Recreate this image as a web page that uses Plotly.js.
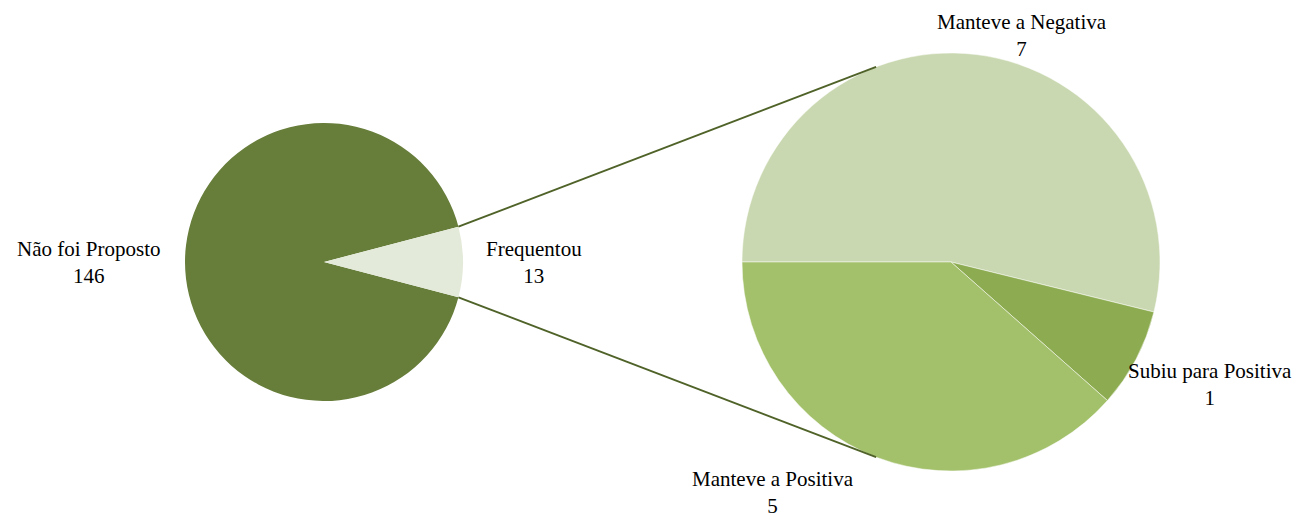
<!DOCTYPE html>
<html>
<head>
<meta charset="utf-8">
<script src="https://cdn.plot.ly/plotly-3.0.1.min.js"></script>
<style>html,body{margin:0;padding:0;background:#fff}#chart{width:1303px;height:518px}</style>
</head>
<body>
<div id="chart"></div>
<script>
// ---- data ----
const mainLabels = ["Não foi Proposto", "Frequentou"];
const mainValues = [146, 13];
const subLabels = ["Manteve a Negativa", "Subiu para Positiva", "Manteve a Positiva"];
const subValues = [7, 1, 5];

// ---- style / layout ----
const W = 1303, H = 518;
const mainColors = ["#677D3A", "#E4EAD9"];
const subColors = ["#C9D8B0", "#8DAC51", "#A3C06A"];
const lineColor = "#4F6228";
const fontFam = "Liberation Serif, serif";
const fontSize = 21;

// pie geometry in pixels (center, radius)
const mainPie = {cx: 324, cy: 262, r: 139};
const subPie = {cx: 951, cy: 262, r: 209};
const connectorAngle = 21; // deg from vertical on the secondary pie

function domainOf(p) {
  return {
    x: [(p.cx - p.r) / W, (p.cx + p.r) / W],
    y: [1 - (p.cy + p.r) / H, 1 - (p.cy - p.r) / H]
  };
}

const totalMain = mainValues.reduce((a, b) => a + b, 0);
const halfFreq = 360 * mainValues[1] / totalMain / 2;
const mainRotation = 90 + halfFreq;

const traces = [
  {
    type: "pie", labels: mainLabels, values: mainValues, sort: false,
    direction: "clockwise", rotation: mainRotation,
    marker: {colors: mainColors, line: {width: 0}},
    textinfo: "none", hoverinfo: "label+value", showlegend: false,
    domain: domainOf(mainPie)
  },
  {
    type: "pie", labels: subLabels, values: subValues, sort: false,
    direction: "clockwise", rotation: -90,
    marker: {colors: subColors, line: {color: "#ffffff", width: 0.5}},
    textinfo: "none", hoverinfo: "label+value", showlegend: false,
    domain: domainOf(subPie)
  }
];

function pt(p, angDeg) {
  const a = angDeg * Math.PI / 180;
  return [(p.cx + p.r * Math.sin(a)) / W, 1 - (p.cy - p.r * Math.cos(a)) / H];
}
const a1 = pt(mainPie, 90 - halfFreq), a2 = pt(mainPie, 90 + halfFreq);
const b1 = pt(subPie, -connectorAngle), b2 = pt(subPie, 180 + connectorAngle);
const shapes = [
  {type: "line", xref: "paper", yref: "paper", x0: a1[0], y0: a1[1], x1: b1[0], y1: b1[1], line: {color: lineColor, width: 2}},
  {type: "line", xref: "paper", yref: "paper", x0: a2[0], y0: a2[1], x1: b2[0], y1: b2[1], line: {color: lineColor, width: 2}}
];

const mainLabelPos = [[89, 262], [534, 262]];
const subLabelPos = [[1022, 36], [1210, 384], [773, 492]];

const annotations = [];
mainLabels.forEach((l, i) => annotations.push({
  text: l + "<br>" + mainValues[i], x: mainLabelPos[i][0] / W, y: 1 - mainLabelPos[i][1] / H,
  xref: "paper", yref: "paper", showarrow: false, xanchor: "center", yanchor: "middle", align: "center"
}));
subLabels.forEach((l, i) => annotations.push({
  text: l + "<br>" + subValues[i], x: subLabelPos[i][0] / W, y: 1 - subLabelPos[i][1] / H,
  xref: "paper", yref: "paper", showarrow: false, xanchor: "center", yanchor: "middle", align: "center"
}));

const layout = {
  width: W, height: H,
  margin: {l: 0, r: 0, t: 0, b: 0},
  paper_bgcolor: "#ffffff",
  font: {family: fontFam, size: fontSize, color: "#000000"},
  showlegend: false,
  shapes: shapes,
  annotations: annotations
};

Plotly.newPlot("chart", traces, layout, {displayModeBar: false, staticPlot: true});
</script>
</body>
</html>
